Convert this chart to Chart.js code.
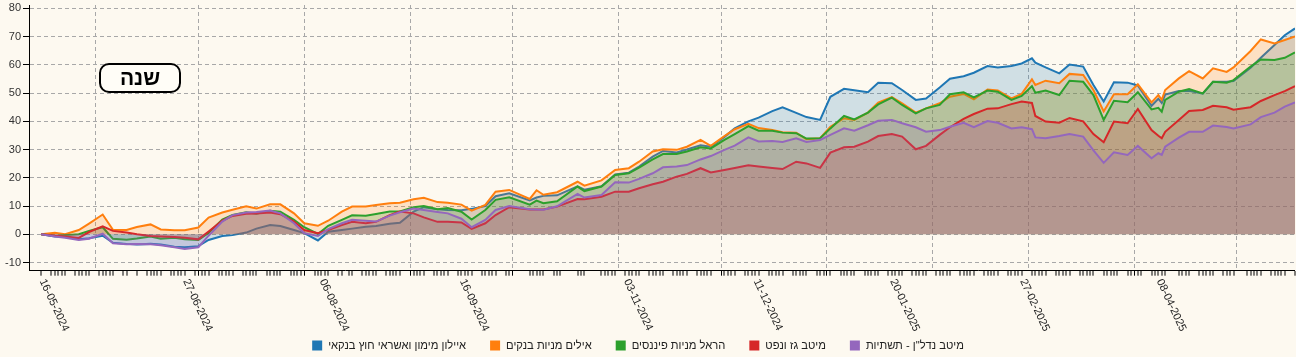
<!DOCTYPE html>
<html><head><meta charset="utf-8">
<script src="https://cdn.jsdelivr.net/npm/chart.js@4.4.1/dist/chart.umd.min.js"></script>
<style>html,body{margin:0;padding:0;background:#fdf9f0;overflow:hidden}canvas{display:block}</style>
</head><body>
<canvas id="c" width="1296" height="357"></canvas>
<script>
// ---- data ----
const dates = ["2024-05-16","2024-05-20","2024-05-23","2024-05-27","2024-05-30","2024-06-03","2024-06-06","2024-06-10","2024-06-13","2024-06-17","2024-06-20","2024-06-24","2024-06-27","2024-07-01","2024-07-04","2024-07-08","2024-07-11","2024-07-15","2024-07-18","2024-07-22","2024-07-25","2024-07-29","2024-08-01","2024-08-05","2024-08-08","2024-08-12","2024-08-15","2024-08-19","2024-08-22","2024-08-26","2024-08-29","2024-09-02","2024-09-05","2024-09-09","2024-09-12","2024-09-16","2024-09-19","2024-09-23","2024-09-26","2024-09-30","2024-10-06","2024-10-08","2024-10-10","2024-10-14","2024-10-20","2024-10-22","2024-10-27","2024-10-31","2024-11-04","2024-11-07","2024-11-11","2024-11-14","2024-11-18","2024-11-21","2024-11-25","2024-11-28","2024-12-02","2024-12-05","2024-12-09","2024-12-12","2024-12-16","2024-12-19","2024-12-23","2024-12-26","2024-12-30","2025-01-02","2025-01-06","2025-01-09","2025-01-13","2025-01-16","2025-01-20","2025-01-23","2025-01-27","2025-01-30","2025-02-03","2025-02-06","2025-02-10","2025-02-13","2025-02-17","2025-02-20","2025-02-24","2025-02-27","2025-03-02","2025-03-03","2025-03-06","2025-03-10","2025-03-13","2025-03-17","2025-03-20","2025-03-23","2025-03-26","2025-03-30","2025-04-02","2025-04-06","2025-04-08","2025-04-09","2025-04-10","2025-04-14","2025-04-17","2025-04-21","2025-04-24","2025-04-28","2025-04-30","2025-05-05","2025-05-08","2025-05-12","2025-05-15","2025-05-18"];

const seriesNames = ["איילון מימון ואשראי חוץ בנקאי","אילים מניות בנקים","הראל מניות פיננסים","מיטב גז ונפט","מיטב נדל\"ן - תשתיות"];
const seriesColors = ["#1f77b4","#ff7f0e","#2ca02c","#d62728","#9467bd"];

const ayalon = [0,-0.8,-1.0,-1.8,-1.4,-0.5,-3.0,-3.4,-3.6,-3.4,-3.6,-4.4,-4.6,-4.2,-2.0,-0.6,-0.3,0.6,2.0,3.3,2.9,1.5,0.4,-2.2,0.9,1.5,2.0,2.7,2.9,3.7,4.1,8.0,9.6,8.9,8.6,8.5,9.0,10.0,13.5,14.5,12.0,13.0,13.6,13.8,17.0,15.8,17.0,21.2,21.8,24.0,27.5,29.5,29.0,30.0,31.5,31.0,34.5,37.5,40.0,41.3,43.6,45.0,43.0,41.5,40.5,48.7,51.5,51.0,50.3,53.7,53.5,51.1,47.6,48.1,52.0,55.1,56.0,57.2,59.6,59.1,59.6,60.5,62.3,60.8,59.1,57.0,60.1,59.4,52.9,47.0,53.8,53.7,52.7,45.5,48.0,46.5,49.5,50.7,50.8,49.8,54.0,54.0,54.3,59.0,62.5,67.0,70.5,72.9];
const ayalim = [0,0.5,0.0,1.5,3.8,7.0,1.6,1.5,2.6,3.5,1.7,1.4,1.4,2.4,5.9,7.7,8.7,9.9,9.1,10.6,10.6,7.4,3.9,3.0,4.8,8.0,9.8,9.8,10.4,11.0,11.2,12.4,12.9,11.4,11.2,10.5,8.4,10.4,15.1,15.7,12.5,15.6,14.0,14.9,18.6,17.2,19.1,22.8,23.4,25.7,29.3,30.1,29.9,31.0,33.4,31.3,34.8,37.2,39.1,37.6,36.9,36.1,36.0,33.7,34.0,38.1,41.1,40.5,43.1,46.6,48.6,46.4,43.1,44.6,46.4,48.7,49.7,47.8,51.3,50.9,48.1,49.7,54.9,52.9,54.4,53.5,56.8,56.4,51.1,43.5,49.6,49.6,53.1,46.7,49.3,47.6,51.1,55.2,57.8,55.2,58.8,57.5,59.1,64.9,69.0,67.6,68.8,70.1];
const harel = [0,-0.6,-0.3,0.0,1.2,2.5,-1.6,-1.9,-1.5,-0.8,-1.6,-1.2,-1.8,-2.0,0.5,5.2,6.8,7.8,7.3,8.3,8.0,5.1,2.5,0.1,3.0,5.1,6.7,6.6,7.2,8.1,8.1,9.6,10.0,8.9,9.3,8.0,5.2,8.6,12.2,13.1,10.5,11.9,11.0,11.7,16.9,15.3,16.9,21.0,21.6,23.6,26.5,28.4,28.4,29.3,30.8,30.4,33.4,35.5,38.3,36.7,36.7,36.0,35.8,33.9,34.0,37.5,41.9,40.7,43.1,46.0,48.4,45.8,42.8,44.6,45.8,49.6,50.3,48.5,50.9,50.5,47.6,49.0,52.5,50.1,50.9,49.3,54.4,54.0,49.3,40.5,47.3,46.8,50.3,44.2,44.8,43.4,47.6,50.5,51.4,49.9,54.0,53.7,54.6,59.4,61.9,61.7,62.5,64.4];
const meitavGas = [0,-0.5,-0.8,-1.3,0.8,2.8,1.2,0.6,0.0,-0.6,-0.8,-1.0,-1.2,-1.8,1.0,4.8,6.5,7.3,7.4,7.7,7.1,4.5,1.5,0.4,1.5,3.3,4.4,3.9,4.4,6.8,8.1,7.4,6.0,4.4,4.4,4.2,1.9,3.9,6.8,9.6,8.8,8.8,8.8,9.8,12.5,12.4,13.3,15.1,15.1,16.3,17.7,18.6,20.4,21.4,23.4,21.9,22.8,23.5,24.4,24.0,23.5,23.1,25.7,25.1,23.5,28.9,30.8,31.0,32.8,34.8,35.5,34.6,30.1,31.3,35.2,37.9,40.9,42.6,44.5,44.6,46.1,47.0,46.5,41.9,39.9,39.5,41.2,40.0,35.5,32.6,39.9,39.3,44.4,36.9,34.9,34.0,36.3,40.5,43.7,44.0,45.5,45.0,44.1,45.0,47.2,49.3,50.7,52.5];
const meitavRealEstate = [0,-0.8,-1.2,-2.0,-1.6,0.2,-3.2,-3.5,-3.4,-3.5,-3.9,-4.6,-5.2,-4.6,-0.5,4.5,6.8,7.7,7.9,8.4,7.4,3.9,0.4,-0.6,1.8,3.9,5.1,4.8,4.5,6.6,7.8,9.1,8.6,7.9,7.4,5.5,2.5,5.1,8.6,10.0,8.9,8.8,8.7,9.9,14.3,13.0,13.9,18.4,18.3,19.6,21.6,23.7,24.0,24.5,26.5,27.7,29.9,31.4,34.3,32.9,33.0,32.7,34.0,32.7,33.4,35.2,37.5,36.7,38.6,40.2,40.5,39.3,37.9,36.3,36.9,38.1,39.5,37.9,40.1,39.5,37.5,37.9,37.2,34.3,34.0,34.8,35.5,34.6,29.7,25.3,29.0,28.1,31.3,26.9,28.7,28.1,31.0,34.2,36.3,36.3,38.5,38.0,37.5,38.9,41.5,43.1,45.2,46.7];

const xTickLabels = ["16-05-2024","27-06-2024","06-08-2024","16-09-2024","03-11-2024","11-12-2024","20-01-2025","27-02-2025","08-04-2025"];
const monthStarts = ["2024-06-01","2024-07-01","2024-08-01","2024-09-01","2024-10-01","2024-11-01","2024-12-01","2025-01-01","2025-02-01","2025-03-01","2025-04-01","2025-05-01"];
const marketHolidays = ["2024-06-11","2024-06-12","2024-08-13","2024-10-02","2024-10-03","2024-10-16","2024-10-17","2024-10-23","2024-10-24","2025-04-13","2025-05-01"];
const yTicks = [-10,0,10,20,30,40,50,60,70,80];
const periodLabel = "שנה";

// ---- helpers ----
const DAY = 86400000, START = Date.UTC(2024,4,16);
const dayIso = s => { const [y,m,d] = s.split('-').map(Number); return (Date.UTC(y,m-1,d)-START)/DAY; };
const dayDmy = s => { const [d,m,y] = s.split('-').map(Number); return (Date.UTC(y,m-1,d)-START)/DAY; };
const X_MIN = -3.57, X_MAX = 367.0;
const FONT = "'Liberation Sans', Arial, sans-serif";

const holidaySet = new Set(marketHolidays.map(dayIso));
const tradeSet = new Set();
for (let d = 0; d <= X_MAX; d++) {
  const wd = new Date(START + d*DAY).getUTCDay();
  if (wd === 5 || wd === 6 || holidaySet.has(d)) continue;
  tradeSet.add(d);
}
const monthSet = new Set(monthStarts.map(dayIso));
const allXTicks = Array.from(new Set([...tradeSet, ...monthSet])).sort((a,b)=>a-b);

const xs = dates.map(dayIso);
const allSeries = [ayalon, ayalim, harel, meitavGas, meitavRealEstate];
const hexA = (h,a) => { const n = parseInt(h.slice(1),16); return `rgba(${n>>16&255},${n>>8&255},${n&255},${a})`; };

const datasets = allSeries.map((vals, i) => ({
  label: seriesNames[i],
  data: vals.map((v, k) => ({x: xs[k], y: v})),
  borderColor: seriesColors[i],
  backgroundColor: hexA(seriesColors[i], 0.2),
  borderWidth: 2,
  fill: 'origin',
  pointRadius: 0,
  tension: 0,
  order: 5 - i
}));

const decor = {
  id: 'decor',
  beforeDraw(chart) {
    const c = chart.ctx; c.save(); c.fillStyle = '#fdf9f0'; c.fillRect(0,0,chart.width,chart.height); c.restore();
  },
  afterDraw(chart) {
    const c = chart.ctx, xS = chart.scales.x, bottom = chart.chartArea.bottom;
    // rotated x labels
    c.save();
    c.fillStyle = '#222'; c.font = `11px ${FONT}`;
    c.textAlign = 'left'; c.textBaseline = 'middle';
    xTickLabels.forEach(lbl => {
      const px = xS.getPixelForValue(dayDmy(lbl));
      c.save(); c.translate(px + 1, bottom + 9); c.rotate(65*Math.PI/180);
      c.fillText(lbl, 0, 0); c.restore();
    });
    c.restore();
    // legend
    c.save();
    c.font = `11.2px ${FONT}`; c.textBaseline = 'middle';
    const box = 10, gapBT = 6, gapItem = 24;
    const widths = seriesNames.map(n => box + gapBT + c.measureText(n).width);
    const total = widths.reduce((a,b)=>a+b,0) + gapItem*(widths.length-1);
    let x = 638 - total/2; const yc = 345.5;
    seriesNames.forEach((n,i) => {
      c.fillStyle = seriesColors[i]; c.fillRect(x, yc - 5, box, box);
      c.fillStyle = '#222'; c.direction = 'rtl'; c.textAlign = 'left';
      c.fillText(n, x + box + gapBT, yc);
      x += widths[i] + gapItem;
    });
    c.restore();
    // period badge
    c.save();
    const bx = 100, by = 64, bw = 80, bh = 28, r = 9;
    c.beginPath(); c.roundRect(bx, by, bw, bh, r);
    c.fillStyle = '#fffdf7'; c.fill();
    c.lineWidth = 2; c.strokeStyle = '#000'; c.stroke();
    c.fillStyle = '#000'; c.font = `bold 21px ${FONT}`;
    c.textAlign = 'center'; c.textBaseline = 'middle'; c.direction = 'rtl';
    c.fillText(periodLabel, bx + bw/2, by + bh/2 + 1);
    c.restore();
  }
};

const tv = c => (c && c.tick) ? c.tick.value : null;

new Chart(document.getElementById('c'), {
  type: 'line',
  data: { datasets },
  options: {
    responsive: false, animation: false, devicePixelRatio: 1,
    layout: { padding: { top: 5, right: 1, left: 0, bottom: 0 } },
    plugins: { legend: { display: false }, tooltip: { enabled: false } },
    scales: {
      x: {
        type: 'linear', min: X_MIN, max: X_MAX,
        afterBuildTicks: s => { s.ticks = allXTicks.map(v => ({value: v})); },
        afterFit: s => { s.height = 86.3; s.paddingLeft = 0; s.paddingRight = 0; },
        ticks: { display: false },
        grid: {
          drawOnChartArea: true, drawTicks: true, tickLength: 5,
          color: c => monthSet.has(tv(c)) ? '#a8a8a8' : 'rgba(0,0,0,0)',
          lineWidth: c => monthSet.has(tv(c)) ? 1 : 0,
          tickColor: c => tradeSet.has(tv(c)) ? '#000' : 'rgba(0,0,0,0)',
          tickWidth: 1, tickBorderDash: []
        },
        border: { display: true, color: '#000', width: 1, dash: [4,3] }
      },
      y: {
        type: 'linear', min: -12.9, max: 81.2,
        afterBuildTicks: s => { s.ticks = yTicks.map(v => ({value: v})); },
        afterFit: s => { s.width = 29; s.paddingTop = 0; s.paddingBottom = 0; },
        ticks: { color: '#333', font: { size: 11, family: FONT }, padding: 2 },
        grid: { color: '#a8a8a8', lineWidth: 1, tickColor: '#000', tickLength: 6, tickWidth: 1, tickBorderDash: [] },
        border: { display: true, color: '#000', width: 1, dash: [4,3] }
      }
    }
  },
  plugins: [decor]
});
</script>
</body></html>
